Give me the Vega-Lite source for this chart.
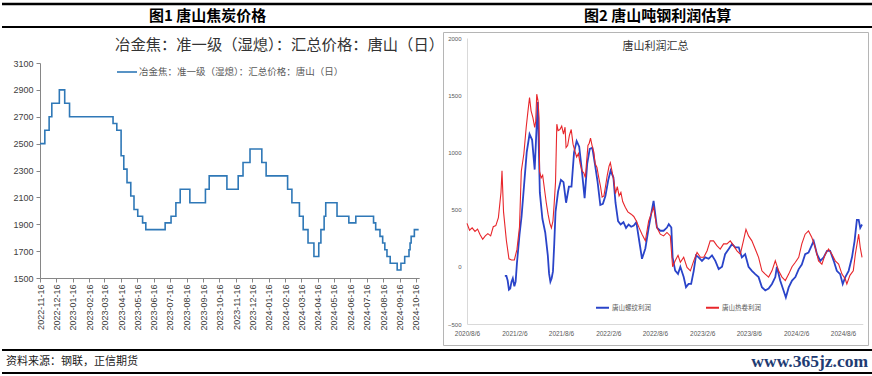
{
  "$schema": "https://vega.github.io/schema/vega-lite/v6.json",
  "padding": {"left": 0, "top": 2, "right": 0, "bottom": 0},
  "background": "white",
  "bounds": "flush",
  "columns": 2,
  "align": "each",
  "spacing": {"row": 5, "column": 0},
  "resolve": {"scale": {"color": "independent"}, "legend": {"color": "independent"}},
  "config": {
    "font": "Noto Sans CJK SC",
    "view": {"stroke": null},
    "axis": {"grid": false, "labelFont": "Liberation Sans", "title": null}
  },
  "datasets": {
    "coke": [
      {"date": "2022-11-16", "price": 2500},
      {"date": "2022-11-25", "price": 2600},
      {"date": "2022-12-03", "price": 2700},
      {"date": "2022-12-08", "price": 2800},
      {"date": "2022-12-22", "price": 2900},
      {"date": "2023-01-01", "price": 2800},
      {"date": "2023-01-10", "price": 2700},
      {"date": "2023-04-01", "price": 2650},
      {"date": "2023-04-08", "price": 2600},
      {"date": "2023-04-16", "price": 2410},
      {"date": "2023-04-21", "price": 2310},
      {"date": "2023-04-27", "price": 2210},
      {"date": "2023-05-04", "price": 2110},
      {"date": "2023-05-10", "price": 2010},
      {"date": "2023-05-17", "price": 1960},
      {"date": "2023-05-26", "price": 1910},
      {"date": "2023-06-01", "price": 1860},
      {"date": "2023-07-07", "price": 1910},
      {"date": "2023-07-18", "price": 1960},
      {"date": "2023-07-27", "price": 2060},
      {"date": "2023-08-04", "price": 2160},
      {"date": "2023-08-22", "price": 2060},
      {"date": "2023-09-20", "price": 2160},
      {"date": "2023-09-27", "price": 2260},
      {"date": "2023-10-30", "price": 2160},
      {"date": "2023-11-20", "price": 2260},
      {"date": "2023-11-29", "price": 2360},
      {"date": "2023-12-12", "price": 2460},
      {"date": "2024-01-03", "price": 2360},
      {"date": "2024-01-11", "price": 2260},
      {"date": "2024-02-20", "price": 2160},
      {"date": "2024-02-28", "price": 2060},
      {"date": "2024-03-13", "price": 1960},
      {"date": "2024-03-20", "price": 1860},
      {"date": "2024-03-29", "price": 1760},
      {"date": "2024-04-09", "price": 1660},
      {"date": "2024-04-18", "price": 1760},
      {"date": "2024-04-22", "price": 1860},
      {"date": "2024-04-28", "price": 1960},
      {"date": "2024-05-01", "price": 2060},
      {"date": "2024-05-22", "price": 1960},
      {"date": "2024-06-13", "price": 1910},
      {"date": "2024-06-26", "price": 1960},
      {"date": "2024-07-29", "price": 1910},
      {"date": "2024-08-02", "price": 1860},
      {"date": "2024-08-10", "price": 1810},
      {"date": "2024-08-15", "price": 1760},
      {"date": "2024-08-19", "price": 1710},
      {"date": "2024-08-23", "price": 1660},
      {"date": "2024-08-29", "price": 1610},
      {"date": "2024-09-11", "price": 1560},
      {"date": "2024-09-18", "price": 1610},
      {"date": "2024-09-25", "price": 1660},
      {"date": "2024-10-03", "price": 1710},
      {"date": "2024-10-05", "price": 1760},
      {"date": "2024-10-07", "price": 1810},
      {"date": "2024-10-13", "price": 1860},
      {"date": "2024-10-21", "price": 1860}
    ],
    "rebar": [
      {"date": "2020-12-31", "profit": -80},
      {"date": "2021-01-06", "profit": -80},
      {"date": "2021-01-11", "profit": -120},
      {"date": "2021-01-16", "profit": -200},
      {"date": "2021-01-21", "profit": -190},
      {"date": "2021-01-26", "profit": -130},
      {"date": "2021-01-31", "profit": -100},
      {"date": "2021-02-06", "profit": -170},
      {"date": "2021-02-11", "profit": -130},
      {"date": "2021-02-16", "profit": 30},
      {"date": "2021-02-26", "profit": 280},
      {"date": "2021-03-06", "profit": 440},
      {"date": "2021-03-16", "profit": 720},
      {"date": "2021-03-26", "profit": 1000},
      {"date": "2021-04-06", "profit": 1160},
      {"date": "2021-04-16", "profit": 1110},
      {"date": "2021-04-26", "profit": 850},
      {"date": "2021-05-01", "profit": 1100},
      {"date": "2021-05-08", "profit": 1440},
      {"date": "2021-05-16", "profit": 650},
      {"date": "2021-05-26", "profit": 420},
      {"date": "2021-06-06", "profit": 300},
      {"date": "2021-06-16", "profit": 100},
      {"date": "2021-06-21", "profit": -60},
      {"date": "2021-06-26", "profit": -130},
      {"date": "2021-07-01", "profit": -100},
      {"date": "2021-07-06", "profit": -40},
      {"date": "2021-07-11", "profit": 200},
      {"date": "2021-07-16", "profit": 480},
      {"date": "2021-07-26", "profit": 660},
      {"date": "2021-08-06", "profit": 760},
      {"date": "2021-08-16", "profit": 740},
      {"date": "2021-08-26", "profit": 560},
      {"date": "2021-09-06", "profit": 700},
      {"date": "2021-09-16", "profit": 700},
      {"date": "2021-09-26", "profit": 1000},
      {"date": "2021-10-06", "profit": 1100},
      {"date": "2021-10-16", "profit": 1050},
      {"date": "2021-10-26", "profit": 850},
      {"date": "2021-11-06", "profit": 600},
      {"date": "2021-11-16", "profit": 900},
      {"date": "2021-11-26", "profit": 1030},
      {"date": "2021-12-06", "profit": 1040},
      {"date": "2021-12-16", "profit": 900},
      {"date": "2021-12-26", "profit": 750},
      {"date": "2022-01-06", "profit": 540},
      {"date": "2022-01-16", "profit": 550},
      {"date": "2022-01-26", "profit": 620},
      {"date": "2022-02-06", "profit": 760},
      {"date": "2022-02-15", "profit": 840},
      {"date": "2022-02-26", "profit": 780},
      {"date": "2022-03-06", "profit": 560},
      {"date": "2022-03-16", "profit": 400},
      {"date": "2022-03-26", "profit": 370},
      {"date": "2022-04-06", "profit": 390},
      {"date": "2022-04-16", "profit": 340},
      {"date": "2022-04-26", "profit": 370},
      {"date": "2022-05-06", "profit": 350},
      {"date": "2022-05-16", "profit": 360},
      {"date": "2022-05-26", "profit": 390},
      {"date": "2022-06-06", "profit": 230},
      {"date": "2022-06-17", "profit": 70},
      {"date": "2022-06-30", "profit": 160},
      {"date": "2022-07-13", "profit": 343},
      {"date": "2022-08-01", "profit": 577},
      {"date": "2022-08-14", "profit": 343},
      {"date": "2022-08-27", "profit": 315},
      {"date": "2022-09-09", "profit": 315},
      {"date": "2022-09-22", "profit": 343},
      {"date": "2022-09-29", "profit": 373},
      {"date": "2022-10-09", "profit": 343},
      {"date": "2022-10-14", "profit": 83},
      {"date": "2022-10-24", "profit": -33},
      {"date": "2022-11-04", "profit": -62},
      {"date": "2022-11-13", "profit": 0},
      {"date": "2022-11-26", "profit": -90},
      {"date": "2022-12-05", "profit": -178},
      {"date": "2022-12-15", "profit": -150},
      {"date": "2022-12-25", "profit": -150},
      {"date": "2023-01-04", "profit": -35},
      {"date": "2023-01-13", "profit": 100},
      {"date": "2023-01-23", "profit": 83},
      {"date": "2023-02-05", "profit": 52},
      {"date": "2023-02-18", "profit": 83},
      {"date": "2023-03-03", "profit": 70},
      {"date": "2023-03-16", "profit": 100},
      {"date": "2023-03-29", "profit": 52},
      {"date": "2023-04-11", "profit": -20},
      {"date": "2023-04-24", "profit": 0},
      {"date": "2023-05-06", "profit": 110},
      {"date": "2023-05-20", "profit": 155},
      {"date": "2023-06-02", "profit": 200},
      {"date": "2023-06-14", "profit": 170},
      {"date": "2023-06-28", "profit": 170},
      {"date": "2023-07-10", "profit": 83},
      {"date": "2023-07-23", "profit": 110},
      {"date": "2023-08-05", "profit": 0},
      {"date": "2023-08-18", "profit": -35},
      {"date": "2023-08-31", "profit": -64},
      {"date": "2023-09-13", "profit": -90},
      {"date": "2023-09-26", "profit": -178},
      {"date": "2023-10-09", "profit": -207},
      {"date": "2023-10-22", "profit": -190},
      {"date": "2023-11-04", "profit": -150},
      {"date": "2023-11-17", "profit": -90},
      {"date": "2023-11-23", "profit": 0},
      {"date": "2023-12-06", "profit": -120},
      {"date": "2023-12-19", "profit": -207},
      {"date": "2023-12-28", "profit": -268},
      {"date": "2024-01-08", "profit": -180},
      {"date": "2024-01-21", "profit": -120},
      {"date": "2024-02-03", "profit": -90},
      {"date": "2024-02-16", "profit": -20},
      {"date": "2024-02-28", "profit": 20},
      {"date": "2024-03-12", "profit": 110},
      {"date": "2024-03-25", "profit": 125},
      {"date": "2024-04-14", "profit": 225},
      {"date": "2024-04-27", "profit": 110},
      {"date": "2024-05-10", "profit": 52},
      {"date": "2024-05-23", "profit": 83},
      {"date": "2024-06-05", "profit": 140},
      {"date": "2024-06-17", "profit": 140},
      {"date": "2024-07-01", "profit": 52},
      {"date": "2024-07-13", "profit": -35},
      {"date": "2024-07-26", "profit": -64},
      {"date": "2024-08-05", "profit": -150},
      {"date": "2024-08-15", "profit": -90},
      {"date": "2024-08-28", "profit": -35},
      {"date": "2024-09-10", "profit": 83},
      {"date": "2024-09-20", "profit": 225},
      {"date": "2024-09-29", "profit": 410},
      {"date": "2024-10-06", "profit": 410},
      {"date": "2024-10-12", "profit": 340},
      {"date": "2024-10-19", "profit": 370}
    ],
    "hrc": [
      {"date": "2020-08-06", "profit": 380},
      {"date": "2020-08-16", "profit": 320},
      {"date": "2020-08-26", "profit": 340},
      {"date": "2020-09-06", "profit": 310},
      {"date": "2020-09-16", "profit": 330},
      {"date": "2020-09-26", "profit": 280},
      {"date": "2020-10-06", "profit": 240},
      {"date": "2020-10-16", "profit": 270},
      {"date": "2020-10-26", "profit": 290},
      {"date": "2020-11-06", "profit": 270},
      {"date": "2020-11-16", "profit": 350},
      {"date": "2020-11-26", "profit": 360},
      {"date": "2020-12-06", "profit": 430},
      {"date": "2020-12-16", "profit": 650},
      {"date": "2020-12-20", "profit": 840},
      {"date": "2020-12-26", "profit": 480},
      {"date": "2021-01-06", "profit": 230},
      {"date": "2021-01-16", "profit": 70},
      {"date": "2021-01-26", "profit": 60},
      {"date": "2021-02-06", "profit": 60},
      {"date": "2021-02-16", "profit": 150},
      {"date": "2021-02-26", "profit": 350},
      {"date": "2021-03-05", "profit": 835},
      {"date": "2021-03-15", "profit": 988},
      {"date": "2021-03-24", "profit": 1218},
      {"date": "2021-03-31", "profit": 1363},
      {"date": "2021-04-06", "profit": 1480},
      {"date": "2021-04-12", "profit": 1363},
      {"date": "2021-04-19", "profit": 1305},
      {"date": "2021-04-26", "profit": 1218},
      {"date": "2021-04-30", "profit": 1270},
      {"date": "2021-05-04", "profit": 1509},
      {"date": "2021-05-09", "profit": 1450},
      {"date": "2021-05-13", "profit": 1300},
      {"date": "2021-05-15", "profit": 835},
      {"date": "2021-05-21", "profit": 777},
      {"date": "2021-05-27", "profit": 800},
      {"date": "2021-06-03", "profit": 680},
      {"date": "2021-06-10", "profit": 560},
      {"date": "2021-06-17", "profit": 460},
      {"date": "2021-06-24", "profit": 380},
      {"date": "2021-06-30", "profit": 340},
      {"date": "2021-07-06", "profit": 400},
      {"date": "2021-07-11", "profit": 560},
      {"date": "2021-07-16", "profit": 740},
      {"date": "2021-07-21", "profit": 1247},
      {"date": "2021-07-26", "profit": 1190},
      {"date": "2021-08-02", "profit": 1200},
      {"date": "2021-08-09", "profit": 1230},
      {"date": "2021-08-16", "profit": 1160},
      {"date": "2021-08-22", "profit": 1220},
      {"date": "2021-08-26", "profit": 1043},
      {"date": "2021-09-01", "profit": 1060},
      {"date": "2021-09-08", "profit": 1150},
      {"date": "2021-09-15", "profit": 1200},
      {"date": "2021-09-22", "profit": 1072},
      {"date": "2021-09-29", "profit": 1014},
      {"date": "2021-10-06", "profit": 960},
      {"date": "2021-10-13", "profit": 990},
      {"date": "2021-10-20", "profit": 897},
      {"date": "2021-10-27", "profit": 839},
      {"date": "2021-11-03", "profit": 820},
      {"date": "2021-11-09", "profit": 780},
      {"date": "2021-11-13", "profit": 900},
      {"date": "2021-11-19", "profit": 1060},
      {"date": "2021-11-24", "profit": 1080},
      {"date": "2021-11-29", "profit": 1125},
      {"date": "2021-12-05", "profit": 1060},
      {"date": "2021-12-12", "profit": 1000},
      {"date": "2021-12-17", "profit": 900},
      {"date": "2021-12-24", "profit": 868},
      {"date": "2021-12-31", "profit": 780},
      {"date": "2022-01-07", "profit": 700},
      {"date": "2022-01-13", "profit": 610},
      {"date": "2022-01-20", "profit": 620},
      {"date": "2022-01-26", "profit": 700},
      {"date": "2022-02-02", "profit": 800},
      {"date": "2022-02-09", "profit": 880},
      {"date": "2022-02-14", "profit": 910},
      {"date": "2022-02-20", "profit": 840},
      {"date": "2022-02-27", "profit": 760},
      {"date": "2022-03-06", "profit": 640},
      {"date": "2022-03-13", "profit": 700},
      {"date": "2022-03-20", "profit": 620},
      {"date": "2022-03-27", "profit": 650},
      {"date": "2022-04-03", "profit": 570},
      {"date": "2022-04-13", "profit": 520},
      {"date": "2022-04-23", "profit": 480},
      {"date": "2022-05-06", "profit": 460},
      {"date": "2022-05-16", "profit": 440},
      {"date": "2022-05-26", "profit": 400},
      {"date": "2022-06-06", "profit": 340},
      {"date": "2022-06-17", "profit": 285},
      {"date": "2022-06-30", "profit": 227},
      {"date": "2022-07-13", "profit": 402},
      {"date": "2022-08-01", "profit": 519},
      {"date": "2022-08-14", "profit": 343},
      {"date": "2022-08-27", "profit": 285},
      {"date": "2022-09-09", "profit": 270},
      {"date": "2022-09-22", "profit": 300},
      {"date": "2022-10-05", "profit": 270},
      {"date": "2022-10-14", "profit": 0},
      {"date": "2022-10-24", "profit": 52},
      {"date": "2022-11-04", "profit": 100},
      {"date": "2022-11-13", "profit": 40},
      {"date": "2022-11-26", "profit": 83},
      {"date": "2022-12-09", "profit": -5},
      {"date": "2022-12-22", "profit": -35},
      {"date": "2023-01-04", "profit": 52},
      {"date": "2023-01-17", "profit": 125},
      {"date": "2023-01-30", "profit": 83},
      {"date": "2023-02-12", "profit": 83},
      {"date": "2023-02-25", "profit": 140},
      {"date": "2023-03-09", "profit": 227},
      {"date": "2023-03-22", "profit": 227},
      {"date": "2023-04-04", "profit": 185},
      {"date": "2023-04-17", "profit": 155},
      {"date": "2023-04-30", "profit": 200},
      {"date": "2023-05-13", "profit": 200},
      {"date": "2023-05-26", "profit": 227},
      {"date": "2023-06-08", "profit": 185},
      {"date": "2023-06-21", "profit": 140},
      {"date": "2023-07-04", "profit": 110},
      {"date": "2023-07-16", "profit": 227},
      {"date": "2023-07-26", "profit": 328},
      {"date": "2023-08-05", "profit": 270},
      {"date": "2023-08-18", "profit": 227},
      {"date": "2023-08-31", "profit": 155},
      {"date": "2023-09-13", "profit": 83},
      {"date": "2023-09-26", "profit": -35},
      {"date": "2023-10-09", "profit": -64},
      {"date": "2023-10-22", "profit": -90},
      {"date": "2023-11-04", "profit": -35},
      {"date": "2023-11-17", "profit": 52},
      {"date": "2023-11-30", "profit": -35},
      {"date": "2023-12-13", "profit": -90},
      {"date": "2023-12-26", "profit": -120},
      {"date": "2024-01-08", "profit": -64},
      {"date": "2024-01-21", "profit": 0},
      {"date": "2024-02-03", "profit": 40},
      {"date": "2024-02-16", "profit": 83},
      {"date": "2024-02-28", "profit": 200},
      {"date": "2024-03-12", "profit": 285},
      {"date": "2024-03-25", "profit": 314},
      {"date": "2024-04-07", "profit": 256},
      {"date": "2024-04-20", "profit": 170},
      {"date": "2024-05-03", "profit": 52},
      {"date": "2024-05-16", "profit": 23},
      {"date": "2024-05-29", "profit": 110},
      {"date": "2024-06-11", "profit": 155},
      {"date": "2024-06-24", "profit": 110},
      {"date": "2024-07-07", "profit": 52},
      {"date": "2024-07-20", "profit": 23},
      {"date": "2024-08-02", "profit": -64},
      {"date": "2024-08-15", "profit": -107},
      {"date": "2024-08-21", "profit": -150},
      {"date": "2024-09-02", "profit": -75},
      {"date": "2024-09-15", "profit": -35},
      {"date": "2024-09-23", "profit": 110},
      {"date": "2024-10-06", "profit": 285},
      {"date": "2024-10-12", "profit": 170},
      {"date": "2024-10-19", "profit": 83}
    ]
  },
  "concat": [
    {
      "width": 441,
      "height": 23,
      "layer": [
        {
          "data": {"values": [{}]},
          "mark": {"type": "rule", "strokeWidth": 2.5, "color": "#000000"},
          "encoding": {"y": {"datum": 1, "type": "quantitative", "scale": {"domain": [0, 1]}, "axis": null}}
        },
        {
          "data": {"values": [{}]},
          "mark": {"type": "rule", "strokeWidth": 2, "color": "#000000"},
          "encoding": {"y": {"datum": 0, "type": "quantitative", "axis": null}}
        },
        {
          "data": {"values": [{"heading": "图1 唐山焦炭价格"}]},
          "mark": {"type": "text", "fontSize": 15, "fontWeight": "bold", "baseline": "middle", "dx": -15, "color": "#000000", "font": "Noto Sans CJK SC"},
          "encoding": {
            "x": {"datum": 0.5, "type": "quantitative", "scale": {"domain": [0, 1]}, "axis": null},
            "y": {"datum": 0.5, "type": "quantitative", "axis": null},
            "text": {"field": "heading"}
          }
        }
      ]
    },
    {
      "width": 431,
      "height": 23,
      "layer": [
        {
          "data": {"values": [{}]},
          "mark": {"type": "rule", "strokeWidth": 2.5, "color": "#000000"},
          "encoding": {"y": {"datum": 1, "type": "quantitative", "scale": {"domain": [0, 1]}, "axis": null}}
        },
        {
          "data": {"values": [{}]},
          "mark": {"type": "rule", "strokeWidth": 2, "color": "#000000"},
          "encoding": {"y": {"datum": 0, "type": "quantitative", "axis": null}}
        },
        {
          "data": {"values": [{"heading": "图2 唐山吨钢利润估算"}]},
          "mark": {"type": "text", "fontSize": 15, "fontWeight": "bold", "baseline": "middle", "dx": -1, "color": "#000000", "font": "Noto Sans CJK SC"},
          "encoding": {
            "x": {"datum": 0.5, "type": "quantitative", "scale": {"domain": [0, 1]}, "axis": null},
            "y": {"datum": 0.5, "type": "quantitative", "axis": null},
            "text": {"field": "heading"}
          }
        }
      ]
    },
    {
      "width": 441,
      "height": 246,
      "data": {"name": "coke"},
      "title": {"text": "冶金焦：准一级（湿熄）：汇总价格：唐山（日）", "anchor": "end", "frame": "group", "offset": -13, "baseline": "middle", "dx": 1, "dy": 15, "fontSize": 15.3, "fontWeight": "normal", "color": "#333333", "font": "Noto Sans CJK SC"},
      "mark": {"type": "line", "interpolate": "step-after", "strokeWidth": 1.6},
      "encoding": {
        "x": {
          "field": "date", "type": "temporal",
          "scale": {"type": "utc", "domain": [{"year": 2022, "month": 11, "date": 16, "utc": true}, {"year": 2024, "month": 10, "date": 22, "utc": true}], "range": [38, 417.2]},
          "axis": {
            "values": [
              {"year": 2022, "month": 11, "date": 16, "utc": true},
              {"year": 2022, "month": 12, "date": 16, "utc": true},
              {"year": 2023, "month": 1, "date": 16, "utc": true},
              {"year": 2023, "month": 2, "date": 16, "utc": true},
              {"year": 2023, "month": 3, "date": 16, "utc": true},
              {"year": 2023, "month": 4, "date": 16, "utc": true},
              {"year": 2023, "month": 5, "date": 16, "utc": true},
              {"year": 2023, "month": 6, "date": 16, "utc": true},
              {"year": 2023, "month": 7, "date": 16, "utc": true},
              {"year": 2023, "month": 8, "date": 16, "utc": true},
              {"year": 2023, "month": 9, "date": 16, "utc": true},
              {"year": 2023, "month": 10, "date": 16, "utc": true},
              {"year": 2023, "month": 11, "date": 16, "utc": true},
              {"year": 2023, "month": 12, "date": 16, "utc": true},
              {"year": 2024, "month": 1, "date": 16, "utc": true},
              {"year": 2024, "month": 2, "date": 16, "utc": true},
              {"year": 2024, "month": 3, "date": 16, "utc": true},
              {"year": 2024, "month": 4, "date": 16, "utc": true},
              {"year": 2024, "month": 5, "date": 16, "utc": true},
              {"year": 2024, "month": 6, "date": 16, "utc": true},
              {"year": 2024, "month": 7, "date": 16, "utc": true},
              {"year": 2024, "month": 8, "date": 16, "utc": true},
              {"year": 2024, "month": 9, "date": 16, "utc": true},
              {"year": 2024, "month": 10, "date": 16, "utc": true}
            ],
            "format": "%Y-%m-%d", "labelAngle": 270, "tickSize": 4, "labelPadding": 2,
            "labelFontSize": 9, "labelColor": "#404040", "domainColor": "#868686", "tickColor": "#868686",
            "labelOverlap": false, "labelFlush": false, "labelBound": false, "title": null
          }
        },
        "y": {
          "field": "price", "type": "quantitative",
          "scale": {"domain": [1500, 3100], "range": [246, 31], "zero": false, "nice": false},
          "axis": {"values": [1500, 1700, 1900, 2100, 2300, 2500, 2700, 2900, 3100], "format": "d", "offset": -38, "tickSize": 4, "labelPadding": 3, "labelFontSize": 9, "labelColor": "#404040", "domainColor": "#868686", "tickColor": "#868686", "title": null}
        },
        "color": {
          "datum": "冶金焦：准一级（湿熄）：汇总价格：唐山（日）",
          "scale": {"range": ["#2f78b7"]},
          "legend": {"orient": "none", "legendX": 114, "legendY": 29, "title": null, "symbolType": "stroke", "symbolSize": 400, "symbolStrokeWidth": 1.6, "labelFontSize": 9.5, "labelColor": "#595959", "labelFont": "Noto Sans CJK SC", "labelLimit": 400, "labelOffset": 1}
        }
      }
    },
    {
      "width": 425,
      "height": 313,
      "view": {"stroke": "#b5b5b5", "strokeWidth": 1},
      "title": {"text": "唐山利润汇总", "anchor": "middle", "frame": "group", "offset": -14, "baseline": "middle", "dy": 12, "fontSize": 11, "fontWeight": "normal", "color": "#333333", "font": "Noto Sans CJK SC"},
      "encoding": {
        "x": {
          "field": "date", "type": "temporal",
          "scale": {"type": "utc", "domain": [{"year": 2020, "month": 8, "date": 6, "utc": true}, {"year": 2024, "month": 10, "date": 22, "utc": true}], "range": [24, 419.8]},
          "axis": {
            "values": [
              {"year": 2020, "month": 8, "date": 6, "utc": true},
              {"year": 2021, "month": 2, "date": 6, "utc": true},
              {"year": 2021, "month": 8, "date": 6, "utc": true},
              {"year": 2022, "month": 2, "date": 6, "utc": true},
              {"year": 2022, "month": 8, "date": 6, "utc": true},
              {"year": 2023, "month": 2, "date": 6, "utc": true},
              {"year": 2023, "month": 8, "date": 6, "utc": true},
              {"year": 2024, "month": 2, "date": 6, "utc": true},
              {"year": 2024, "month": 8, "date": 6, "utc": true}
            ],
            "format": "%Y/%-m/%-d", "offset": -21, "ticks": false, "domainColor": "#d9d9d9",
            "labelFontSize": 6.5, "labelColor": "#595959", "labelPadding": 6, "labelAngle": 0,
            "labelFlush": false, "labelOverlap": false, "title": null
          }
        },
        "y": {
          "field": "profit", "type": "quantitative",
          "scale": {"domain": [-500, 2000], "range": [292, 6], "zero": false, "nice": false},
          "axis": {"values": [-500, 0, 500, 1000, 1500, 2000], "format": "d", "offset": -24, "ticks": false, "domainColor": "#d9d9d9", "labelFontSize": 6, "labelColor": "#595959", "labelPadding": 6, "title": null}
        }
      },
      "layer": [
        {
          "data": {"name": "rebar"},
          "mark": {"type": "line", "strokeWidth": 1.8},
          "encoding": {
            "color": {
              "datum": "唐山螺纹利润",
              "scale": {"domain": ["唐山螺纹利润", "唐山热卷利润"], "range": ["#2a44c9", "#e8262b"]},
              "legend": {"orient": "none", "legendX": 152, "legendY": 268, "direction": "horizontal", "title": null, "symbolType": "stroke", "symbolSize": 169, "symbolStrokeWidth": 2, "labelFontSize": 6.5, "labelColor": "#595959", "labelFont": "Noto Sans CJK SC", "labelOffset": 2, "columnPadding": 51}
            }
          }
        },
        {
          "data": {"name": "hrc"},
          "mark": {"type": "line", "strokeWidth": 1.1},
          "encoding": {"color": {"datum": "唐山热卷利润"}}
        }
      ]
    },
    {
      "width": 441,
      "height": 23,
      "layer": [
        {
          "data": {"values": [{}]},
          "mark": {"type": "rule", "strokeWidth": 1.8, "color": "#000000"},
          "encoding": {"y": {"datum": 1, "type": "quantitative", "scale": {"domain": [0, 1]}, "axis": null}}
        },
        {
          "data": {"values": [{}]},
          "mark": {"type": "rule", "strokeWidth": 1.8, "color": "#000000"},
          "encoding": {"y": {"datum": 0, "type": "quantitative", "axis": null}}
        },
        {
          "data": {"values": [{"label": "资料来源：钢联，正信期货"}]},
          "mark": {"type": "text", "align": "left", "dx": 4, "baseline": "middle", "fontSize": 11, "color": "#1a1a1a", "font": "Noto Sans CJK SC"},
          "encoding": {
            "x": {"datum": 0, "type": "quantitative", "scale": {"domain": [0, 1]}, "axis": null},
            "y": {"datum": 0.5, "type": "quantitative", "axis": null},
            "text": {"field": "label"}
          }
        }
      ]
    },
    {
      "width": 431,
      "height": 23,
      "layer": [
        {
          "data": {"values": [{}]},
          "mark": {"type": "rule", "strokeWidth": 1.8, "color": "#000000"},
          "encoding": {"y": {"datum": 1, "type": "quantitative", "scale": {"domain": [0, 1]}, "axis": null}}
        },
        {
          "data": {"values": [{}]},
          "mark": {"type": "rule", "strokeWidth": 1.8, "color": "#000000"},
          "encoding": {"y": {"datum": 0, "type": "quantitative", "axis": null}}
        },
        {
          "data": {"values": [{"label": "www.365jz.com"}]},
          "mark": {"type": "text", "align": "right", "dx": -6, "baseline": "middle", "fontSize": 17.5, "fontWeight": "bold", "color": "#1f3c73", "font": "Liberation Serif"},
          "encoding": {
            "x": {"datum": 1, "type": "quantitative", "scale": {"domain": [0, 1]}, "axis": null},
            "y": {"datum": 0.5, "type": "quantitative", "axis": null},
            "text": {"field": "label"}
          }
        }
      ]
    }
  ]
}
